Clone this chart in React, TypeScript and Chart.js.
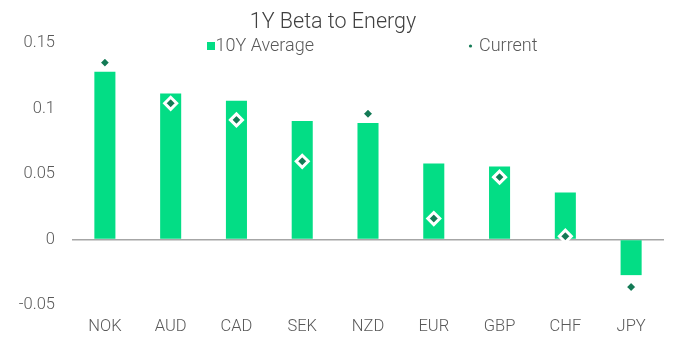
import React, { useEffect, useRef } from "react";
import { Chart, registerables } from "chart.js";

Chart.register(...registerables);

const categories = ["NOK", "AUD", "CAD", "SEK", "NZD", "EUR", "GBP", "CHF", "JPY"];
const avg10Y = [0.128, 0.1115, 0.106, 0.0905, 0.089, 0.058, 0.0558, 0.0358, -0.0272];
const current = [0.135, 0.104, 0.0913, 0.0597, 0.096, 0.016, 0.0476, 0.0025, -0.0363];
const yTicks = [-0.05, 0, 0.05, 0.1, 0.15];
const titleText = "1Y Beta to Energy";
const seriesNames = ["10Y Average", "Current"];

const BAR_COLOR = "#03DD85";
const MARK_COLOR = "#137A55";
const TEXT_COLOR = "#595959";
const FONT = "Roboto";

const overlayPlugin = {
  id: "overlay",
  afterDraw(chart: any) {
    const ctx = chart.ctx;
    ctx.save();
    ctx.fillStyle = "#404040";
    ctx.font = `300 21.5px ${FONT}`;
    ctx.textAlign = "center";
    ctx.textBaseline = "middle";
    ctx.fillText(titleText, 333, 22.5);

    ctx.font = `300 18px ${FONT}`;
    ctx.textAlign = "left";
    ctx.fillStyle = BAR_COLOR;
    ctx.fillRect(207, 42, 8, 8);
    ctx.fillStyle = TEXT_COLOR;
    ctx.fillText(seriesNames[0], 215.5, 46.5);

    ctx.fillStyle = MARK_COLOR;
    ctx.beginPath();
    ctx.arc(470.5, 46, 1.6, 0, Math.PI * 2);
    ctx.fill();
    ctx.fillStyle = TEXT_COLOR;
    ctx.fillText(seriesNames[1], 479, 46.5);
    ctx.restore();
  },
};

export default function App() {
  const ref = useRef<HTMLCanvasElement>(null);
  useEffect(() => {
    if (!ref.current) return;
    const chart = new Chart(ref.current, {
      type: "bar",
      data: {
        labels: categories,
        datasets: [
          {
            type: "line",
            label: seriesNames[1],
            data: current,
            showLine: false,
            pointStyle: "rectRot",
            pointRadius: 6,
            pointBorderWidth: 3,
            pointBackgroundColor: MARK_COLOR,
            pointBorderColor: "#ffffff",
            order: 0,
          } as any,
          {
            type: "bar",
            label: seriesNames[0],
            data: avg10Y,
            backgroundColor: BAR_COLOR,
            borderWidth: 0,
            barPercentage: 0.32,
            categoryPercentage: 1,
            order: 1,
          },
        ],
      },
      options: {
        animation: false,
        responsive: false,
        maintainAspectRatio: false,
        layout: { padding: { top: 43, right: 29, bottom: 0, left: 0 } },
        plugins: {
          legend: { display: false },
          title: { display: false },
          tooltip: { enabled: false },
        },
        scales: {
          x: {
            grid: { display: false, drawTicks: false },
            border: { display: false },
            ticks: {
              color: TEXT_COLOR,
              font: { family: FONT, size: 16.5, weight: "300" as any },
              padding: 12,
            },
            afterFit(scale: any) {
              scale.height = 51;
            },
          },
          y: {
            min: -0.05,
            max: 0.15,
            afterBuildTicks(scale: any) {
              scale.ticks = yTicks.map((v) => ({ value: v }));
            },
            grid: {
              drawTicks: false,
              color: (c: any) => (c.tick && c.tick.value === 0 ? "#A6A6A6" : "rgba(0,0,0,0)"),
              lineWidth: 1.5,
            },
            border: { display: false },
            ticks: {
              color: TEXT_COLOR,
              font: { family: FONT, size: 16.5, weight: "300" as any },
              padding: 17,
              callback: (v: any) => String(Math.round(Number(v) * 100) / 100),
            },
            afterFit(scale: any) {
              scale.width = 72;
            },
          },
        },
      },
      plugins: [overlayPlugin],
    });
    return () => chart.destroy();
  }, []);
  return (
    <div style={{ position: "fixed", left: 0, top: 0, width: 693, height: 356, background: "#fff" }}>
      <canvas ref={ref} width={693} height={356} style={{ display: "block" }} />
    </div>
  );
}
